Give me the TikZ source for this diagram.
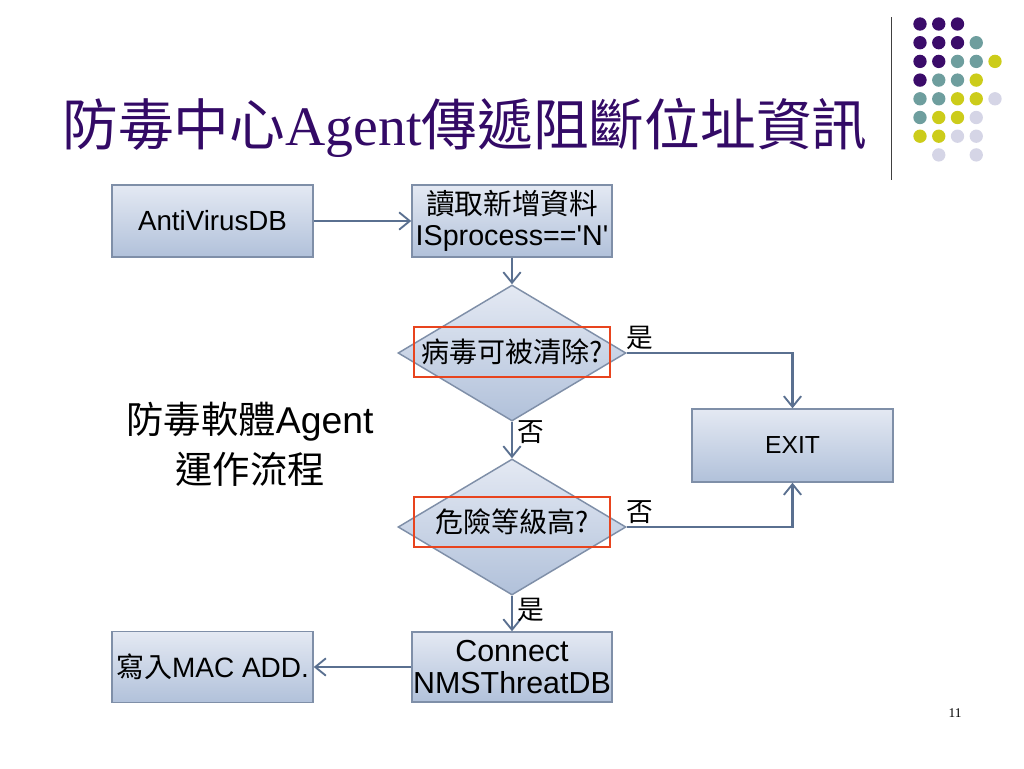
\documentclass[tikz,border=0pt]{standalone}
\usepackage{fontspec}
\setmainfont{Liberation Sans}
\newfontfamily\cjk{Noto Sans CJK TC}
\newfontfamily\serifl{Liberation Serif}
\usetikzlibrary{shapes.geometric,arrows.meta}
\definecolor{titlepurple}{HTML}{330A66}
\definecolor{dotP}{HTML}{3B0C6A}
\definecolor{dotT}{HTML}{6E9E9E}
\definecolor{dotY}{HTML}{CCCC1A}
\definecolor{dotL}{HTML}{D5D5E6}
\definecolor{boxtop}{HTML}{E4E9F3}
\definecolor{boxbot}{HTML}{B1C1DA}
\definecolor{boxline}{HTML}{7F8FA8}
\definecolor{arrowc}{HTML}{5A7090}
\definecolor{redc}{HTML}{E8441E}
\definecolor{rulec}{HTML}{404040}
\begin{document}
\begin{tikzpicture}[x=0.75pt,y=-0.75pt,
 box/.style={rectangle, draw=boxline, line width=1.1pt, top color=boxtop, bottom color=boxbot, inner sep=0pt, align=center, text=black},
 dia/.style={diamond, draw=boxline, line width=1.1pt, top color=boxtop, bottom color=boxbot, inner sep=0pt, minimum width=171pt, minimum height=102pt},
 redbox/.style={rectangle, draw=redc, line width=1.8pt, inner sep=0pt, minimum width=147pt, minimum height=37.5pt, font=\cjk\fontsize{21}{24}\selectfont},
 arr/.style={draw=arrowc, line width=1.6pt, -{Straight Barb[length=8pt,width=13pt,line width=1.4pt]}},
 lbl/.style={font=\cjk\fontsize{20}{22}\selectfont, inner sep=0pt}]
\useasboundingbox (0,0) rectangle (1024,768);
% title
\node[font=\cjk\fontsize{41.8}{48}\selectfont, text=titlepurple, inner sep=0pt] (title) at (465,128) {防毒中心{\serifl Agent}傳遞阻斷位址資訊};
% decoration
\draw[rulec, line width=0.8pt] (891.7,17) -- (891.7,180);
\foreach \col/\i/\j in {dotP/0/0,dotP/1/0,dotP/2/0, dotP/0/1,dotP/1/1,dotP/2/1,dotT/3/1, dotP/0/2,dotP/1/2,dotT/2/2,dotT/3/2,dotY/4/2, dotP/0/3,dotT/1/3,dotT/2/3,dotY/3/3, dotT/0/4,dotT/1/4,dotY/2/4,dotY/3/4,dotL/4/4, dotT/0/5,dotY/1/5,dotY/2/5,dotL/3/5, dotY/0/6,dotY/1/6,dotL/2/6,dotL/3/6, dotL/1/7,dotL/3/7}
  \fill[\col] ({920+18.75*\i},{24+18.7*\j}) circle[radius=5pt];
% boxes
\node[box, minimum width=150.75pt, minimum height=54pt, font=\fontsize{20.8}{24}\selectfont] (av) at (212.5,221) {AntiVirusDB};
\node[box, minimum width=150pt, minimum height=54pt, font=\fontsize{21.5}{23}\selectfont] (rd) at (512,221) {{\cjk 讀取新增資料}\\ISprocess==\textquotesingle N\textquotesingle};
\node[dia] (d1) at (512,353) {};
\node[redbox] (r1) at (512,352) {病毒可被清除?};
\node[dia] (d2) at (512,527) {};
\node[redbox] (r2) at (512,522) {危險等級高?};
\node[box, minimum width=150.75pt, minimum height=54.75pt, font=\fontsize{18.5}{22}\selectfont] (ex) at (792.5,445.5) {EXIT};
\node[box, minimum width=150pt, minimum height=52.5pt, font=\fontsize{22.8}{23.5}\selectfont] (cn) at (512,667) {Connect\\NMSThreatDB};
\node[box, minimum width=150.75pt, minimum height=53.25pt, font=\fontsize{21}{24}\selectfont] (wr) at (212.5,667) {{\cjk 寫入}MAC ADD.};
% side text
\node[align=center, font=\fontsize{28}{37.5}\selectfont, inner sep=0pt] (side) at (250,444) {{\cjk 防毒軟體}Agent\\{\cjk 運作流程}};
% connectors
\draw[arr] (av.east) -- (rd.west);
\draw[arr] (rd.south) -- (d1.north);
\draw[arr] (d1.south) -- (d2.north);
\draw[arr] (d2.south) -- (cn.north);
\draw[arr] (cn.west) -- (wr.east);
\draw[arr] (d1.east) -| (ex.north);
\draw[arr] (d2.east) -| (ex.south);
% labels
\node[lbl] (l1) at (640,338) {是};
\node[lbl] (l2) at (531,432) {否};
\node[lbl] (l3) at (640,512) {否};
\node[lbl] (l4) at (531,610) {是};
% page number
\node[font=\serifl\fontsize{10}{12}\selectfont, inner sep=0pt] (pg) at (955,713) {11};
\end{tikzpicture}
\end{document}
